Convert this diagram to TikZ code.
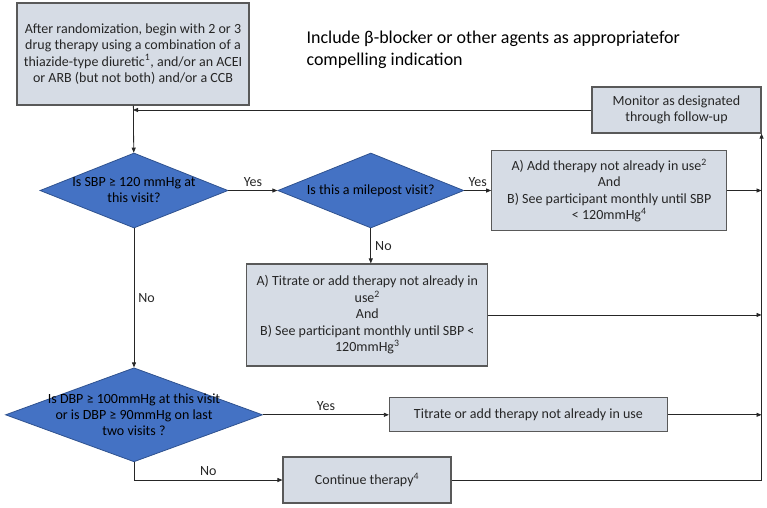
\documentclass[tikz,border=0pt]{standalone}
\usepackage{fontspec}
\setmainfont{Carlito}
\usetikzlibrary{arrows.meta, positioning, shapes.geometric}

\begin{document}
\begin{tikzpicture}[
    x=1pt, y=-1pt,
    >={Triangle[length=5pt, width=4pt]},
    font=\fontsize{14}{16.5}\selectfont,
]
\definecolor{boxFill}{HTML}{D6DCE5}
\definecolor{boxLine}{HTML}{595959}
\definecolor{diaFill}{HTML}{4472C4}
\definecolor{diaLine}{HTML}{2F528F}
\definecolor{inkDark}{HTML}{262626}

\tikzset{
    process/.style={
        rectangle, draw=boxLine, line width=1.1pt, fill=boxFill,
        align=center, text=inkDark, inner sep=2pt,
    },
    decision/.style={
        diamond, draw=diaLine, line width=0.8pt, fill=diaFill, inner sep=0pt,
    },
    asktext/.style={align=center, text=black, font=\fontsize{14}{16}\selectfont},
    flow/.style={->, line width=0.8pt, draw=inkDark},
    answer/.style={text=inkDark, inner sep=4pt},
    note/.style={align=left, text=black, font=\fontsize{18}{22}\selectfont},
}

\useasboundingbox (0,0) rectangle (767,507);

\node[process, minimum width=232pt, minimum height=102pt] (start) at (133,54)
    {After randomization, begin with 2 or 3\\drug therapy using a combination of a\\
     thiazide-type diuretic\textsuperscript{1}, and/or an ACEI\\or ARB (but not both) and/or a CCB};
\node[note, anchor=north west] (advice) at (303,27)
    {Include β-blocker or other agents as appropriatefor\\compelling indication};
\node[process, minimum width=169pt, minimum height=46pt] (monitor) at (676.5,110)
    {Monitor as designated\\through follow-up};

\node[decision, minimum width=188pt, minimum height=75pt,
    label={[asktext]center:{Is SBP ≥ 120 mmHg at\\this visit?}}] (sbp) at (134,190.5) {};
\node[decision, minimum width=186pt, minimum height=75pt, right=49pt of sbp,
    label={[asktext]center:{Is this a milepost visit?}}] (milepost) {};
\node[process, minimum width=235pt, minimum height=80pt, right=27pt of milepost] (addtherapy)
    {A) Add therapy not already in use\textsuperscript{2}\\And\\
     B) See participant monthly until SBP\\< 120mmHg\textsuperscript{4}};
\node[process, minimum width=241pt, minimum height=102pt, below=35pt of milepost, xshift=-3.5pt] (titrate)
    {A) Titrate or add therapy not already in\\use\textsuperscript{2}\\And\\
     B) See participant monthly until SBP <\\120mmHg\textsuperscript{3}};

\node[decision, minimum width=257pt, minimum height=94pt, below=139pt of sbp,
    label={[asktext]center:{Is DBP ≥ 100mmHg at this visit\\or is DBP ≥ 90mmHg on last\\two visits ?}}] (dbp) {};
\node[process, minimum width=278pt, minimum height=34pt, right=126pt of dbp] (titrateonly)
    {Titrate or add therapy not already in use};
\node[process, minimum width=168pt, minimum height=46pt] (keep) at (367,480)
    {Continue therapy\textsuperscript{4}};

% main path
\draw[flow] (start) -- (sbp);
\draw[flow] (sbp) -- node[above, answer] {Yes} (milepost);
\draw[flow] (milepost) -- node[above, answer] {Yes} (addtherapy);
\draw[flow] (milepost) -- node[right, answer] {No} (milepost.south |- titrate.north);
\draw[flow] (sbp) -- node[right, answer] {No} (dbp);
\draw[flow] (dbp) -- node[above, answer] {Yes} (titrateonly);
\draw[flow] (dbp.south) |- node[pos=0.75, above, answer] {No} (keep.west);

% everything returns to the monitoring box
\draw[flow] (addtherapy.east) -- (addtherapy.east -| monitor.south east);
\draw[flow] (titrate.east) -- (titrate.east -| monitor.south east);
\draw[flow] (titrateonly.east) -- (titrateonly.east -| monitor.south east);
\draw[flow] (keep.east) -- (keep.east -| monitor.south east) -- (monitor.south east);
\draw[flow] (monitor.west) -- (monitor.west -| start.south);

\end{tikzpicture}
\end{document}
